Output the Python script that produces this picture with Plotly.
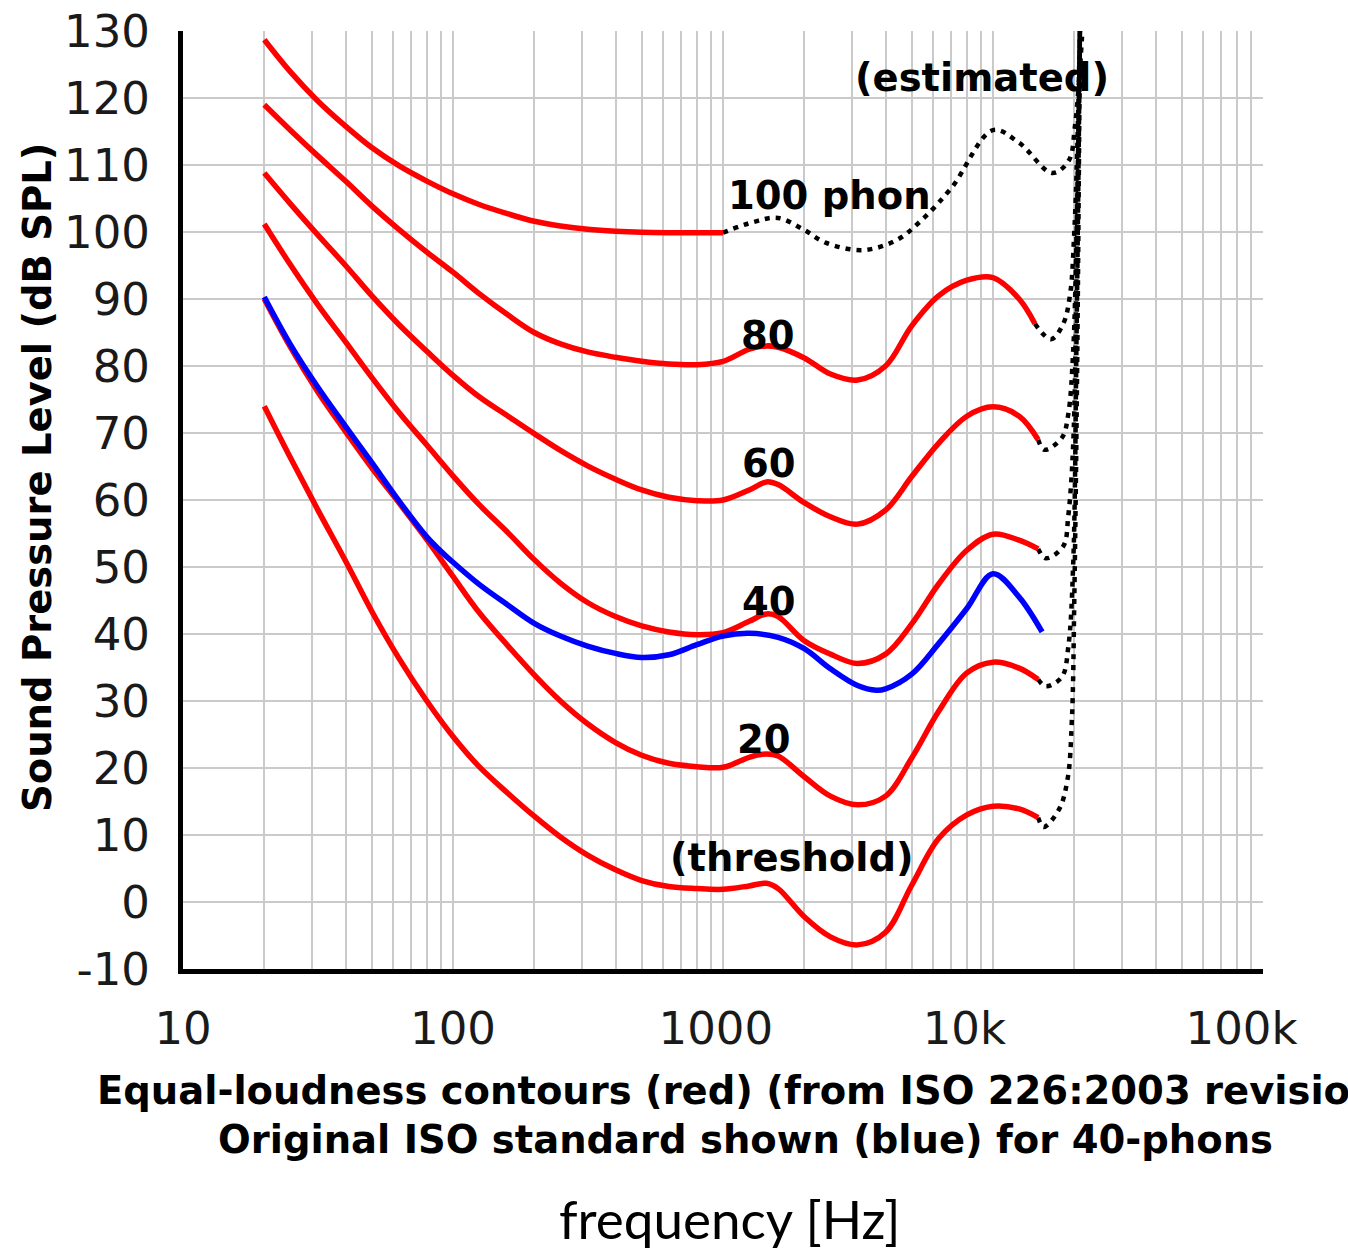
import math
import plotly.graph_objects as go

# ---------------- data ----------------
FREQ = [20, 25, 31.5, 40, 50, 63, 80, 100, 125, 160, 200, 250, 315, 400, 500, 630,
        800, 1000, 1250, 1450, 1600, 2000, 2500, 3150, 4000, 5000, 6300, 8000,
        10000, 12500, 14700]

THRESHOLD = [74.0, 66.3, 58.6, 50.9, 43.4, 36.4, 30.0, 24.7, 20.2, 16.2, 12.8, 9.7,
             7.0, 4.8, 3.2, 2.3, 2.0, 1.9, 2.4, 2.8, 2.0, -2.2, -5.2, -6.4, -4.5,
             2.5, 9.5, 13.0, 14.3, 13.9, 12.6]
PHON_20 = [90.0, 82.8, 76.2, 70.2, 64.8, 59.6, 54.1, 48.6, 43.2, 38.2, 33.9, 30.0,
           26.6, 23.8, 21.9, 20.7, 20.2, 20.1, 21.6, 22.1, 21.8, 18.7, 15.8, 14.5,
           15.8, 21.5, 28.5, 34.2, 35.8, 34.9, 33.2]
PHON_40 = [101.2, 95.1, 89.2, 83.6, 78.3, 73.1, 68.2, 63.6, 59.3, 55.1, 51.1, 47.6,
           44.7, 42.6, 41.2, 40.3, 39.9, 40.2, 41.9, 43.0, 42.6, 39.0, 37.0, 35.6,
           37.0, 41.5, 47.5, 52.5, 54.9, 54.0, 52.7]
PHON_60 = [108.8, 104.2, 99.6, 95.0, 90.5, 86.2, 82.2, 78.6, 75.4, 72.5, 69.9, 67.4,
           65.1, 63.1, 61.5, 60.4, 59.9, 60.0, 61.5, 62.7, 62.3, 59.6, 57.5, 56.4,
           58.5, 63.5, 68.5, 72.5, 73.9, 72.5, 69.0]
FREQ_80 = [20, 25, 31.5, 40, 50, 63, 80, 100, 125, 160, 200, 250, 315, 400, 500, 630,
           800, 1000, 1250, 1450, 1600, 2000, 2500, 3150, 4000, 5000, 6300, 8000,
           10000, 12500, 14300]
PHON_80 = [119.0, 115.2, 111.4, 107.6, 103.9, 100.4, 97.0, 94.0, 90.8, 87.6, 85.0, 83.3,
           82.1, 81.3, 80.7, 80.3, 80.2, 80.7, 82.5, 83.0, 82.8, 81.2, 78.8, 77.9,
           80.0, 86.0, 90.5, 92.8, 93.2, 90.0, 86.3]
FREQ_100 = [20, 25, 31.5, 40, 50, 63, 80, 100, 125, 160, 200, 250, 315, 400, 500, 630,
            800, 1000]
PHON_100 = [128.7, 123.9, 119.6, 115.8, 112.6, 109.9, 107.6, 105.7, 104.1, 102.7, 101.6,
            100.9, 100.4, 100.1, 99.95, 99.9, 99.9, 99.9]

# original ISO standard, 40 phon (blue)
FREQ_OLD = [20, 25, 31.5, 40, 50, 63, 80, 90, 100, 125, 160, 200, 250, 315, 400, 500,
            630, 800, 1000, 1250, 1600, 2000, 2500, 3150, 3700, 4000, 5000, 6300, 8000,
            10000, 12500, 15200]
OLD_40 = [90.3, 83.2, 76.9, 71.0, 65.6, 59.9, 54.5, 52.4, 50.7, 47.4, 44.3, 41.6, 39.7,
          38.2, 37.1, 36.5, 36.9, 38.4, 39.7, 40.1, 39.5, 37.8, 34.8, 32.3, 31.6, 31.8,
          34.0, 38.6, 43.8, 49.0, 45.5, 40.3]

# dotted "estimated" extensions
EST_100_F = [1000, 1300, 1600, 2000, 2400, 3300, 4400, 5450, 7050, 10000, 12500, 16600,
             19100, 20100, 20800, 21500]
EST_100_DB = [99.9, 101.5, 102.1, 100.3, 98.4, 97.3, 98.8, 101.8, 106.7, 115.2, 113.3,
              108.8, 110.7, 115.7, 122.2, 131.0]
EST_80_F = [14300, 16400, 18200, 19300, 20000, 20500, 21000]
EST_80_DB = [86.3, 84.0, 86.3, 90.7, 100.0, 112.0, 131.0]
EST_60_F = [14700, 15500, 18000, 19000, 19800, 20400, 21000]
EST_60_DB = [69.0, 67.5, 69.3, 72.8, 82.0, 100.0, 131.0]
EST_40_F = [14700, 15700, 18200, 19000, 19800, 20400, 21000]
EST_40_DB = [52.7, 51.3, 53.1, 57.6, 68.0, 95.0, 131.0]
EST_20_F = [14700, 15700, 18000, 19000, 19800, 20400, 21000]
EST_20_DB = [33.2, 32.2, 33.6, 38.0, 50.0, 85.0, 131.0]
EST_TH_F = [14700, 15400, 17600, 18900, 19600, 20000, 20500, 21000]
EST_TH_DB = [12.6, 11.2, 13.9, 18.4, 27.3, 45.0, 80.0, 131.0]

X_TICKS = [10, 100, 1000, 10000, 100000]
X_TICKTEXT = ["10", "100", "1000\u00a0", "10k\u00a0\u00a0\u00a0\u00a0", "100k\u00a0\u00a0\u00a0"]
Y_TICKS = list(range(-10, 131, 10))
X_MINOR = [m * 10 ** e for e in range(1, 5) for m in range(2, 10)]

# contour labels: (text, frequency, level)
LABELS = [("(estimated)", 10 ** 3.959, 123.0), ("100 phon", 10 ** 3.396, 105.4),
          ("80", 10 ** 3.167, 84.6), ("60", 10 ** 3.170, 65.5), ("40", 10 ** 3.170, 44.8),
          ("20", 10 ** 3.152, 24.3), ("(threshold)", 10 ** 3.256, 6.6)]

# ---------------- figure ----------------
W, H = 1348, 1252
L, R, T, B = 183, 85, 31, 283
PW, PH = W - L - R, H - T - B


def px(xp):
    return (xp - L) / PW


def py(yp):
    return (T + PH - yp) / PH


fig = go.Figure()

RED = "#ff0000"
BLUE = "#0000ff"


def add(x, y, color, width, dash=None, shape="spline"):
    fig.add_trace(go.Scatter(
        x=x, y=y, mode="lines", hoverinfo="skip", showlegend=False,
        line=dict(color=color, width=width, dash=dash, shape=shape,
                  smoothing=1.0 if shape == "spline" else None)))


DOT = "5px,6px"
for fx, fy in [(EST_100_F, EST_100_DB), (EST_80_F, EST_80_DB), (EST_60_F, EST_60_DB),
               (EST_40_F, EST_40_DB), (EST_20_F, EST_20_DB), (EST_TH_F, EST_TH_DB)]:
    add(fx, fy, "black", 4.5, dash=DOT)

add(FREQ_100, PHON_100, RED, 5.5)
add(FREQ_80, PHON_80, RED, 5.5)
add(FREQ, PHON_60, RED, 5.5)
add(FREQ, PHON_40, RED, 5.5)
add(FREQ, PHON_20, RED, 5.5)
add(FREQ, THRESHOLD, RED, 5.5)
add(FREQ_OLD, OLD_40, BLUE, 5.5)

BOLD = dict(family="DejaVu Sans", size=38.5, color="black")
annotations = []
for txt, f, db in LABELS:
    annotations.append(dict(
        x=math.log10(f), y=db, xref="x", yref="y", text="<b>%s</b>" % txt,
        showarrow=False, xanchor="center", yanchor="middle", font=BOLD))

annotations += [
    dict(x=px(38), y=py(478), xref="paper", yref="paper", textangle=-90,
         text="<b>Sound Pressure Level (dB SPL)</b>", showarrow=False,
         xanchor="center", yanchor="middle", font=BOLD),
    dict(x=px(95), y=py(1090), xref="paper", yref="paper",
         text="<b>Equal-loudness contours (red) (from ISO 226:2003 revision)</b>",
         showarrow=False, xanchor="left", yanchor="middle", font=BOLD),
    dict(x=px(745), y=py(1140), xref="paper", yref="paper",
         text="<b>Original ISO standard shown (blue) for 40-phons</b>",
         showarrow=False, xanchor="center", yanchor="middle", font=BOLD),
    dict(x=px(730), y=py(1218), xref="paper", yref="paper",
         text="frequency [Hz]", showarrow=False, xanchor="center", yanchor="middle",
         font=dict(family="Lato", size=53, color="black")),
]

GRID = "#cacaca"
fig.update_layout(
    template="none",
    width=W, height=H,
    margin=dict(l=L, r=R, t=T, b=B, autoexpand=False),
    paper_bgcolor="white", plot_bgcolor="white",
    showlegend=False,
    annotations=annotations,
    xaxis=dict(
        type="log", range=[1, 5], tickvals=X_TICKS, ticktext=X_TICKTEXT,
        tickfont=dict(family="DejaVu Sans", size=45, color="#1a1a1a"),
        ticks="", ticklabelstandoff=16,
        showgrid=True, gridcolor=GRID, gridwidth=2,
        minor=dict(tickvals=X_MINOR, showgrid=True, gridcolor=GRID, gridwidth=2, ticks=""),
        showline=True, linecolor="black", linewidth=5, zeroline=False, automargin=False,
    ),
    yaxis=dict(
        range=[-10, 130], tickvals=Y_TICKS, ticktext=[str(v) for v in Y_TICKS],
        tickfont=dict(family="DejaVu Sans", size=45, color="#1a1a1a"),
        ticks="", ticklabelstandoff=19,
        showgrid=True, gridcolor=GRID, gridwidth=2,
        showline=True, linecolor="black", linewidth=5, zeroline=False, automargin=False,
    ),
)

fig.write_html("out.html", config={"displayModeBar": False},
               post_script="document.body.style.margin='0';")
